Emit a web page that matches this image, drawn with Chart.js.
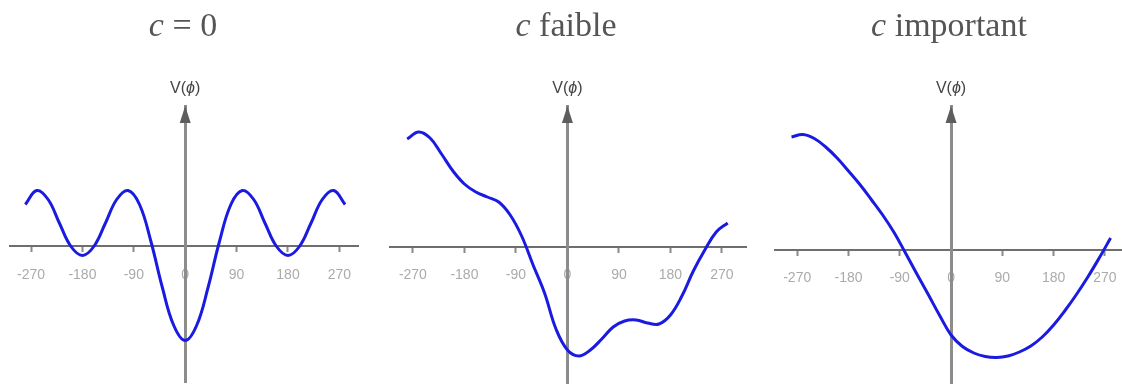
<!DOCTYPE html>
<html>
<head>
<meta charset="utf-8">
<script src="https://cdn.jsdelivr.net/npm/chart.js@4"></script>
<style>
  html, body { margin: 0; padding: 0; background: #fff; }
  #wrap { position: relative; width: 1122px; height: 385px; overflow: hidden; background: #fff; }
  canvas { position: absolute; top: 0; }
  .title {
    position: absolute; top: 8px;
    font-family: 'Liberation Serif', 'Times New Roman', serif;
    font-size: 34px; line-height: 34px; color: #555;
    white-space: nowrap; transform: translateX(-50%);
  }
</style>
</head>
<body>
<div id="wrap">
  <canvas id="c0" width="374" height="385" style="left:0"></canvas>
  <canvas id="c1" width="374" height="385" style="left:374px"></canvas>
  <canvas id="c2" width="374" height="385" style="left:748px"></canvas>
  <div class="title" style="left:183px"><i>c</i> = 0</div>
  <div class="title" style="left:566px"><i>c</i> faible</div>
  <div class="title" style="left:949px"><i>c</i> important</div>
</div>
<script>
// phase angle (degrees) and potential
const PHI = [-280, -260, -240, -220, -200, -180, -160, -140, -120, -100, -80, -60, -40, -20, 0,
             20, 40, 60, 80, 100, 120, 140, 160, 180, 200, 220, 240, 260, 280];
const V_C0 = [42, 56, 47, 23, 0, -9, 0, 23, 47, 56, 42, 5, -41, -79, -94,
              -79, -41, 5, 42, 56, 47, 23, 0, -9, 0, 23, 47, 56, 42];
const V_FAIBLE = [108, 115, 109, 93, 76, 63, 55, 50, 45, 32, 11, -18, -46, -82, -103,
                  -109, -103, -92, -80, -74, -73, -76, -77, -68, -49, -24, -3, 15, 24];
const V_IMPORTANT = [113, 115.5, 111.5, 103, 92, 79, 65.5, 50.5, 35, 17.5, -3, -24, -44.5, -65.5, -85,
                     -96.5, -103, -106.5, -107.5, -106, -102, -96, -87, -75, -60.5, -44.5, -27, -8, 12];
const TICKS = [-270, -180, -90, 0, 90, 180, 270];

const panels = [
    { id: 'c0', values: V_C0, xMin: -306.8, xMax: 302.6, yMin: -135.5, yMax: 140.5,
      pad: { left: 10, right: 16, top: 106, bottom: 3 } },
    { id: 'c1', values: V_FAIBLE, xMin: -310, xMax: 312, yMin: -136, yMax: 141,
      pad: { left: 16, right: 2, top: 106, bottom: 2 } },
    { id: 'c2', values: V_IMPORTANT, xMin: -309, xMax: 300, yMin: -133, yMax: 144,
      pad: { left: 27, right: 0, top: 106, bottom: 2 } }
];

// arrow on the vertical axis and the V(ϕ) label above it
const axisArrow = {
    id: 'axisArrow',
    afterDraw(chart) {
        const ctx = chart.ctx;
        const x0 = chart.scales.x.getPixelForValue(0);
        const top = chart.chartArea.top;
        ctx.save();
        ctx.fillStyle = '#5e5e5e';
        ctx.beginPath();
        ctx.moveTo(x0, top);
        ctx.lineTo(x0 - 5.5, top + 17);
        ctx.lineTo(x0 + 5.5, top + 17);
        ctx.closePath();
        ctx.fill();

        const parts = [
            ['V(', '16px "Liberation Sans", Arial, sans-serif'],
            ['\u03D5', 'italic 16px "Liberation Sans", Arial, sans-serif'],
            [')', '16px "Liberation Sans", Arial, sans-serif']
        ];
        let total = 0;
        parts.forEach(p => { ctx.font = p[1]; total += ctx.measureText(p[0]).width; });
        let x = x0 - total / 2;
        ctx.fillStyle = '#444';
        ctx.textBaseline = 'alphabetic';
        ctx.textAlign = 'left';
        parts.forEach(p => {
            ctx.font = p[1];
            ctx.fillText(p[0], x, top - 13);
            x += ctx.measureText(p[0]).width;
        });
        ctx.restore();
    }
};

function drawPanel(panel) {
    const ctx = document.getElementById(panel.id).getContext('2d');
    new Chart(ctx, {
        type: 'line',
        data: {
            datasets: [{
                data: PHI.map((p, i) => ({ x: p, y: panel.values[i] })),
                borderColor: '#1a1ae0',
                borderWidth: 3,
                pointRadius: 0,
                fill: false,
                tension: 0.4
            }]
        },
        options: {
            responsive: false,
            animation: false,
            layout: { padding: panel.pad },
            scales: {
                x: {
                    type: 'linear',
                    position: { y: 0 },
                    min: panel.xMin,
                    max: panel.xMax,
                    afterBuildTicks: scale => { scale.ticks = TICKS.map(v => ({ value: v })); },
                    afterFit: scale => { scale.height = 0; scale.paddingLeft = 0; scale.paddingRight = 0; },
                    grid: { display: true, drawOnChartArea: false, drawTicks: true, tickLength: 5, tickWidth: 2, tickColor: '#8a8a8a' },
                    border: { display: true, color: '#6e6e6e', width: 2 },
                    ticks: {
                        z: -1,
                        padding: 15,
                        maxRotation: 0,
                        minRotation: 0,
                        autoSkip: false,
                        color: '#ababab',
                        font: { family: '"Liberation Sans", Arial, sans-serif', size: 14 },
                        callback: value => String(value)
                    }
                },
                y: {
                    type: 'linear',
                    position: { x: 0 },
                    min: panel.yMin,
                    max: panel.yMax,
                    afterFit: scale => { scale.width = 0; scale.paddingTop = 0; scale.paddingBottom = 0; },
                    grid: { display: false },
                    border: { display: true, color: '#8c8c8c', width: 3 },
                    ticks: { display: false }
                }
            },
            plugins: {
                legend: { display: false },
                tooltip: { enabled: false }
            }
        },
        plugins: [axisArrow]
    });
}

panels.forEach(drawPanel);
</script>
</body>
</html>
